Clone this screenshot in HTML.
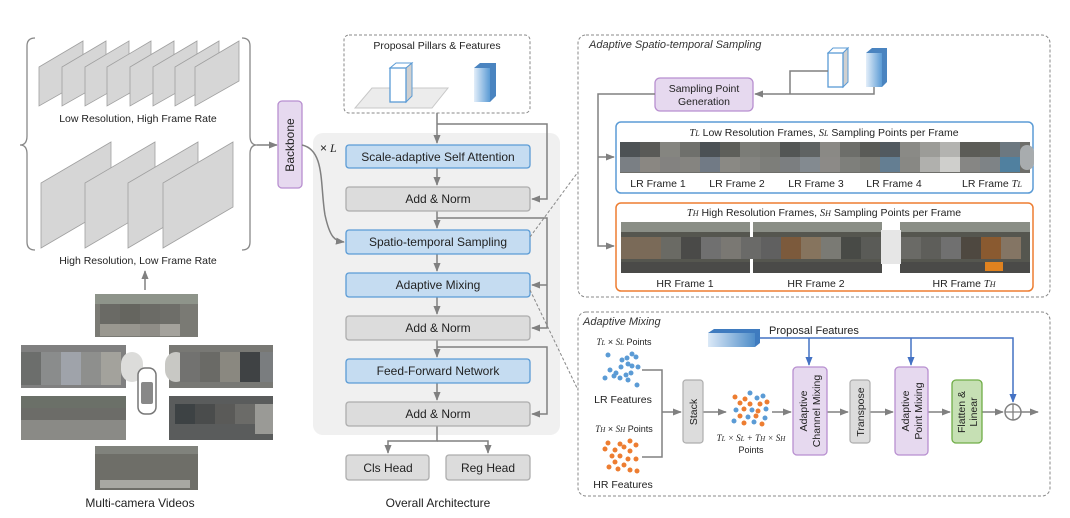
<!DOCTYPE html>
<html><head><meta charset="utf-8"><style>
html,body{margin:0;padding:0;background:#fff;}
svg{display:block;font-family:"Liberation Sans",sans-serif;}
.t{font-size:12px;fill:#222;text-anchor:middle;}
.s{font-size:10.5px;fill:#222;text-anchor:middle;}
.m{font-family:"Liberation Serif",serif;font-style:italic;}
</style></head><body>
<svg width="1070" height="518" viewBox="0 0 1070 518" xmlns="http://www.w3.org/2000/svg">
<defs>
<marker id="a" viewBox="0 0 10 10" refX="9" refY="5" markerWidth="6" markerHeight="6" orient="auto"><path d="M0,1 L10,5 L0,9 z" fill="#808080"/></marker>
<marker id="ab" viewBox="0 0 10 10" refX="9" refY="5" markerWidth="6" markerHeight="6" orient="auto"><path d="M0,1 L10,5 L0,9 z" fill="#4472c4"/></marker>
<linearGradient id="bg1" x1="0" x2="1"><stop offset="0" stop-color="#e3eef9"/><stop offset="1" stop-color="#5b9bd5"/></linearGradient>
<linearGradient id="bg2" x1="0" x2="1"><stop offset="0" stop-color="#dbe9f7"/><stop offset="1" stop-color="#4f8dc9"/></linearGradient>
</defs>

<path d="M35,38 Q27,38 27,46 L27,136 Q27,145 20,145 Q27,145 27,154 L27,242 Q27,250 35,250" fill="none" stroke="#888" stroke-width="1.3"/>
<path d="M242,38 Q250,38 250,46 L250,136 Q250,145 257,145 Q250,145 250,154 L250,242 Q250,250 242,250" fill="none" stroke="#888" stroke-width="1.3"/>
<line x1="257" y1="145" x2="277" y2="145" stroke="#808080" stroke-width="1.5" marker-end="url(#a)"/>
<g fill="#d6d6d6" stroke="#a0a0a0" stroke-width="0.8">
<polygon points="39,67 83,41 83,81 39,106"/>
<polygon points="62,67 106,41 106,81 62,106"/>
<polygon points="85,67 129,41 129,81 85,106"/>
<polygon points="107,67 151,41 151,81 107,106"/>
<polygon points="130,67 174,41 174,81 130,106"/>
<polygon points="153,67 197,41 197,81 153,106"/>
<polygon points="175,67 219,41 219,81 175,106"/>
<polygon points="195,67 239,41 239,81 195,106"/>
</g>
<text x="138" y="122" class="s" font-size="11">Low Resolution, High Frame Rate</text>
<g fill="#d6d6d6" stroke="#a0a0a0" stroke-width="0.8">
<polygon points="41,183 111,142 111,207 41,248"/>
<polygon points="85,183 155,142 155,207 85,248"/>
<polygon points="128,183 198,142 198,207 128,248"/>
<polygon points="163,183 233,142 233,207 163,248"/>
</g>
<text x="138" y="264" class="s" font-size="11">High Resolution, Low Frame Rate</text>
<line x1="145" y1="290" x2="145" y2="271" stroke="#808080" stroke-width="1.5" marker-end="url(#a)"/>

<g>
<rect x="95" y="294" width="103" height="43" fill="#7a7a74"/>
<rect x="95" y="294" width="103" height="10" fill="#8e948a"/>
<rect x="100" y="304" width="20" height="20" fill="#6a6a65"/><rect x="120" y="304" width="20" height="20" fill="#65655f"/><rect x="140" y="304" width="20" height="20" fill="#6b6b66"/><rect x="160" y="304" width="20" height="20" fill="#6e6e69"/>
<rect x="100" y="324" width="20" height="12" fill="#9a9890"/><rect x="120" y="324" width="20" height="12" fill="#97958e"/><rect x="140" y="324" width="20" height="12" fill="#8f8d87"/><rect x="160" y="324" width="20" height="12" fill="#a4a29c"/>
<rect x="21" y="345" width="105" height="43" fill="#808080"/>
<rect x="21" y="352" width="20" height="33" fill="#6c6e6c"/><rect x="41" y="352" width="20" height="33" fill="#8a8c8c"/><rect x="61" y="352" width="20" height="33" fill="#9fa3aa"/><rect x="81" y="352" width="20" height="33" fill="#8e8f8d"/><rect x="101" y="352" width="20" height="33" fill="#a3a29c"/><rect x="121" y="352" width="22" height="30" rx="12" fill="#dcdcda"/>
<rect x="169" y="345" width="104" height="43" fill="#787874"/>
<rect x="165" y="352" width="22" height="30" rx="12" fill="#c8c8c4"/><rect x="180" y="352" width="20" height="30" fill="#727270"/><rect x="200" y="352" width="20" height="30" fill="#6a6a66"/><rect x="220" y="352" width="20" height="30" fill="#8a8880"/><rect x="240" y="352" width="20" height="30" fill="#3f4244"/><rect x="260" y="352" width="13" height="30" fill="#7a7d7f"/>
<rect x="21" y="396" width="105" height="44" fill="#8a8a86"/>
<rect x="21" y="396" width="105" height="12" fill="#6b7068"/>
<rect x="21" y="408" width="105" height="12" fill="#6c6c68"/>
<rect x="169" y="396" width="104" height="44" fill="#5a5c5c"/>
<rect x="175" y="404" width="20" height="20" fill="#3d4244"/><rect x="195" y="404" width="20" height="20" fill="#4a4c4c"/><rect x="215" y="404" width="20" height="20" fill="#5a5a58"/><rect x="235" y="404" width="20" height="20" fill="#6b6b68"/><rect x="255" y="404" width="18" height="30" fill="#9a9a96"/>
<rect x="95" y="446" width="103" height="44" fill="#6e6e68"/>
<rect x="95" y="446" width="103" height="8" fill="#80827c"/>
<rect x="100" y="480" width="90" height="8" fill="#a8a8a2"/>
<rect x="138" y="368" width="18" height="46" rx="7" fill="#fff" stroke="#777" stroke-width="1.5"/>
<rect x="141" y="382" width="12" height="22" rx="2" fill="#888"/>
</g>
<text x="140" y="507" class="t">Multi-camera Videos</text>

<rect x="278" y="101" width="24" height="87" rx="4" fill="#e6d9ef" stroke="#b88fd0" stroke-width="1.3"/>
<text transform="translate(294,145) rotate(-90)" class="t">Backbone</text>

<rect x="313" y="133" width="247" height="302" rx="10" fill="#f0f0f0"/>
<rect x="344" y="35" width="186" height="78" rx="5" fill="none" stroke="#888" stroke-dasharray="3,2"/>
<text x="437" y="49" class="s" font-size="11">Proposal Pillars &amp; Features</text>
<polygon points="372,88 448,88 432,108 355,108" fill="#ececec" stroke="#c8c8c8"/>
<polygon points="390,68 396,63 412,63 406,68" fill="#fff" stroke="#5b9bd5"/>
<polygon points="406,68 412,63 412,96 406,102" fill="#d0d0d0" stroke="#5b9bd5"/>
<rect x="390" y="68" width="16" height="34" fill="#fff" stroke="#5b9bd5" stroke-width="1.3"/>
<polygon points="474,68 480,63 496,63 496,96 490,102 474,102" fill="#4a84c0"/>
<rect x="474" y="68" width="16" height="34" fill="url(#bg1)"/>
<text x="320" y="152" font-size="12" fill="#222"><tspan>×</tspan><tspan class="m" dx="3">L</tspan></text>

<g stroke="#808080" stroke-width="1.5" fill="none">
<path d="M437,113 L437,143" marker-end="url(#a)"/>
<path d="M437,124 L547,124 L547,199 L532,199" marker-end="url(#a)"/>
<path d="M437,168 L437,185" marker-end="url(#a)"/>
<path d="M437,211 L437,228" marker-end="url(#a)"/>
<path d="M437,218 L547,218 L547,328 L532,328" marker-end="url(#a)"/>
<path d="M547,285 L532,285" marker-end="url(#a)"/>
<path d="M437,254 L437,271" marker-end="url(#a)"/>
<path d="M437,297 L437,314" marker-end="url(#a)"/>
<path d="M437,340 L437,357" marker-end="url(#a)"/>
<path d="M437,347 L547,347 L547,414 L532,414" marker-end="url(#a)"/>
<path d="M437,383 L437,400" marker-end="url(#a)"/>
<path d="M437,426 L437,441 L388,441 L388,453" marker-end="url(#a)"/>
<path d="M437,441 L488,441 L488,453" marker-end="url(#a)"/>
<path d="M302,145 C325,150 320,185 325,215 C330,238 335,241 344,242" marker-end="url(#a)"/>
</g>
<g stroke-width="1.3">
<rect x="346" y="145" width="184" height="23" rx="3" fill="#c5dcf1" stroke="#5b9bd5"/>
<rect x="346" y="187" width="184" height="24" rx="3" fill="#dcdcdc" stroke="#adadad"/>
<rect x="346" y="230" width="184" height="24" rx="3" fill="#c5dcf1" stroke="#5b9bd5"/>
<rect x="346" y="273" width="184" height="24" rx="3" fill="#c5dcf1" stroke="#5b9bd5"/>
<rect x="346" y="316" width="184" height="24" rx="3" fill="#dcdcdc" stroke="#adadad"/>
<rect x="346" y="359" width="184" height="24" rx="3" fill="#c5dcf1" stroke="#5b9bd5"/>
<rect x="346" y="402" width="184" height="24" rx="3" fill="#dcdcdc" stroke="#adadad"/>
<rect x="346" y="455" width="83" height="25" rx="3" fill="#dcdcdc" stroke="#adadad"/>
<rect x="446" y="455" width="84" height="25" rx="3" fill="#dcdcdc" stroke="#adadad"/>
</g>
<text x="438" y="161" class="t">Scale-adaptive Self Attention</text>
<text x="438" y="203" class="t">Add &amp; Norm</text>
<text x="438" y="246" class="t">Spatio-temporal Sampling</text>
<text x="438" y="289" class="t">Adaptive Mixing</text>
<text x="438" y="332" class="t">Add &amp; Norm</text>
<text x="438" y="375" class="t">Feed-Forward Network</text>
<text x="438" y="418" class="t">Add &amp; Norm</text>
<text x="388" y="472" class="t">Cls Head</text>
<text x="488" y="472" class="t">Reg Head</text>
<text x="438" y="507" class="t">Overall Architecture</text>
<line x1="530" y1="237" x2="578" y2="172" stroke="#888" stroke-dasharray="3,2"/>
<line x1="530" y1="290" x2="578" y2="390" stroke="#888" stroke-dasharray="3,2"/>

<rect x="578" y="35" width="472" height="262" rx="8" fill="none" stroke="#888" stroke-dasharray="3,2"/>
<text x="589" y="48" font-size="11" font-style="italic" fill="#333">Adaptive Spatio-temporal Sampling</text>
<rect x="655" y="78" width="98" height="33" rx="5" fill="#e6d9ef" stroke="#b88fd0" stroke-width="1.3"/>
<text x="704" y="92" class="s" font-size="11">Sampling Point</text>
<text x="704" y="105" class="s" font-size="11">Generation</text>
<polygon points="828,53 833,48 848,48 843,53" fill="#fff" stroke="#5b9bd5"/>
<polygon points="843,53 848,48 848,82 843,87" fill="#d0d0d0" stroke="#5b9bd5"/>
<rect x="828" y="53" width="15" height="34" fill="#fff" stroke="#5b9bd5" stroke-width="1.3"/>
<polygon points="866,53 872,48 887,48 887,82 882,87 866,87" fill="#4a84c0"/>
<rect x="866" y="53" width="16" height="34" fill="url(#bg1)"/>
<g stroke="#808080" stroke-width="1.5" fill="none">
<path d="M790,94 L790,71 L828,71"/>
<path d="M874,87 L874,94 L755,94" marker-end="url(#a)"/>
<path d="M655,94 L598,94 L598,246 L614,246" marker-end="url(#a)"/>
<path d="M598,157 L614,157" marker-end="url(#a)"/>
</g>
<rect x="616" y="122" width="417" height="71" rx="5" fill="none" stroke="#5b9bd5" stroke-width="1.5"/>
<text x="824" y="136" class="s" font-size="11"><tspan class="m">T</tspan><tspan class="m" font-size="8">L</tspan> Low Resolution Frames,  <tspan class="m">S</tspan><tspan class="m" font-size="8">L</tspan> Sampling Points per Frame</text>
<g>
<rect x="620" y="142" width="410" height="31" fill="#6e6e6a"/>
<rect x="620" y="142" width="20" height="15" fill="#4d5255"/><rect x="640" y="142" width="20" height="15" fill="#5a5a57"/><rect x="660" y="142" width="20" height="15" fill="#858580"/><rect x="680" y="142" width="20" height="15" fill="#6f706c"/><rect x="700" y="142" width="20" height="15" fill="#4b5155"/><rect x="720" y="142" width="20" height="15" fill="#5e5f5a"/><rect x="740" y="142" width="20" height="15" fill="#7b7c77"/><rect x="760" y="142" width="20" height="15" fill="#777873"/><rect x="780" y="142" width="20" height="15" fill="#535655"/><rect x="800" y="142" width="20" height="15" fill="#5f6363"/><rect x="820" y="142" width="20" height="15" fill="#8a8985"/><rect x="840" y="142" width="20" height="15" fill="#6d6e6a"/><rect x="860" y="142" width="20" height="15" fill="#5a5b57"/><rect x="880" y="142" width="20" height="15" fill="#525a60"/><rect x="900" y="142" width="20" height="15" fill="#8a8a86"/><rect x="920" y="142" width="20" height="15" fill="#9c9c98"/><rect x="940" y="142" width="20" height="15" fill="#b3b3b0"/><rect x="960" y="142" width="20" height="15" fill="#5c5c57"/><rect x="980" y="142" width="20" height="15" fill="#5f605b"/><rect x="1000" y="142" width="20" height="15" fill="#6c7880"/><rect x="1020" y="145" width="14" height="25" rx="7" fill="#a8acae"/>
<rect x="620" y="157" width="20" height="15" fill="#7a7f84"/><rect x="640" y="157" width="20" height="15" fill="#8a8782"/><rect x="660" y="157" width="20" height="15" fill="#838280"/><rect x="680" y="157" width="20" height="15" fill="#858480"/><rect x="700" y="157" width="20" height="15" fill="#717a85"/><rect x="720" y="157" width="20" height="15" fill="#8a8984"/><rect x="740" y="157" width="20" height="15" fill="#848480"/><rect x="760" y="157" width="20" height="15" fill="#7d7e7a"/><rect x="780" y="157" width="20" height="15" fill="#7b7e80"/><rect x="800" y="157" width="20" height="15" fill="#838a90"/><rect x="820" y="157" width="20" height="15" fill="#8c8a87"/><rect x="840" y="157" width="20" height="15" fill="#7e7f7b"/><rect x="860" y="157" width="20" height="15" fill="#787974"/><rect x="880" y="157" width="20" height="15" fill="#647e92"/><rect x="900" y="157" width="20" height="15" fill="#888884"/><rect x="920" y="157" width="20" height="15" fill="#b0b0ad"/><rect x="940" y="157" width="20" height="15" fill="#cfcfcc"/><rect x="960" y="157" width="20" height="15" fill="#868684"/><rect x="980" y="157" width="20" height="15" fill="#7e8386"/><rect x="1000" y="157" width="20" height="15" fill="#50809f"/>
</g>
<g class="s" font-size="11">
<text x="658" y="187">LR Frame 1</text><text x="737" y="187">LR Frame 2</text><text x="816" y="187">LR Frame 3</text><text x="894" y="187">LR Frame 4</text><text x="992" y="187">LR Frame <tspan class="m">T</tspan><tspan class="m" font-size="8">L</tspan></text>
</g>
<rect x="616" y="203" width="417" height="88" rx="5" fill="none" stroke="#ed7d31" stroke-width="1.5"/>
<text x="824" y="216" class="s" font-size="11"><tspan class="m">T</tspan><tspan class="m" font-size="8">H</tspan> High Resolution Frames,  <tspan class="m">S</tspan><tspan class="m" font-size="8">H</tspan> Sampling Points per Frame</text>
<g>
<rect x="621" y="222" width="129" height="51" fill="#55564f"/><rect x="753" y="222" width="129" height="51" fill="#55564f"/><rect x="900" y="222" width="130" height="51" fill="#55564f"/>
<rect x="621" y="222" width="129" height="10" fill="#8a8e86"/><rect x="753" y="222" width="129" height="10" fill="#8a8e86"/><rect x="900" y="222" width="130" height="10" fill="#8a8e86"/>
<rect x="621" y="262" width="129" height="11" fill="#4a4a48"/><rect x="753" y="262" width="129" height="11" fill="#4a4a48"/><rect x="900" y="262" width="130" height="11" fill="#4a4a48"/>
<rect x="621" y="237" width="20" height="22" fill="#7a6a58"/><rect x="641" y="237" width="20" height="22" fill="#7a6a58"/><rect x="661" y="237" width="20" height="22" fill="#6a6a64"/><rect x="681" y="237" width="20" height="22" fill="#4a4a48"/><rect x="701" y="237" width="20" height="22" fill="#707070"/><rect x="721" y="237" width="20" height="22" fill="#7a7873"/><rect x="741" y="237" width="20" height="22" fill="#6a6a68"/><rect x="761" y="237" width="20" height="22" fill="#606060"/><rect x="781" y="237" width="20" height="22" fill="#7c5a3c"/><rect x="801" y="237" width="20" height="22" fill="#86745e"/><rect x="821" y="237" width="20" height="22" fill="#7a7a74"/><rect x="841" y="237" width="20" height="22" fill="#484a46"/><rect x="861" y="237" width="20" height="22" fill="#5a5b57"/><rect x="881" y="230" width="20" height="34" fill="#e6e6e6"/><rect x="901" y="237" width="20" height="22" fill="#6a6a66"/><rect x="921" y="237" width="20" height="22" fill="#5e5e5a"/><rect x="941" y="237" width="20" height="22" fill="#707070"/><rect x="961" y="237" width="20" height="22" fill="#4e4840"/><rect x="981" y="237" width="20" height="22" fill="#8a5a30"/><rect x="1001" y="237" width="20" height="22" fill="#847564"/>
<rect x="985" y="262" width="18" height="9" fill="#e0821f"/>
</g>
<g class="s" font-size="11">
<text x="685" y="287">HR Frame 1</text><text x="816" y="287">HR Frame 2</text><text x="964" y="287">HR Frame <tspan class="m">T</tspan><tspan class="m" font-size="8">H</tspan></text>
</g>

<rect x="578" y="312" width="472" height="184" rx="8" fill="none" stroke="#888" stroke-dasharray="3,2"/>
<text x="583" y="325" font-size="11" font-style="italic" fill="#333">Adaptive Mixing</text>
<polygon points="708,333 714,329 760,329 760,343 755,347" fill="#3f7bbf"/>
<rect x="708" y="333" width="47" height="14" fill="url(#bg2)"/>
<text x="769" y="334" font-size="11" fill="#222">Proposal Features</text>
<g stroke="#4472c4" stroke-width="1.5" fill="none">
<path d="M760,338 L1013,338 L1013,402" marker-end="url(#ab)"/>
<path d="M809,338 L809,365" marker-end="url(#ab)"/>
<path d="M911,338 L911,365" marker-end="url(#ab)"/>
</g>
<text x="624" y="345" font-size="9" fill="#222" text-anchor="middle"><tspan class="m">T</tspan><tspan class="m" font-size="7">L</tspan> × <tspan class="m">S</tspan><tspan class="m" font-size="7">L</tspan> Points</text>
<g fill="#5b9bd5">
<circle cx="608" cy="355" r="2.5"/><circle cx="622" cy="360" r="2.5"/><circle cx="627" cy="358" r="2.5"/><circle cx="632" cy="354" r="2.5"/><circle cx="636" cy="357" r="2.5"/><circle cx="628" cy="364" r="2.5"/><circle cx="610" cy="370" r="2.5"/><circle cx="616" cy="373" r="2.5"/><circle cx="621" cy="367" r="2.5"/><circle cx="632" cy="366" r="2.5"/><circle cx="638" cy="367" r="2.5"/><circle cx="614" cy="376" r="2.5"/><circle cx="620" cy="378" r="2.5"/><circle cx="626" cy="375" r="2.5"/><circle cx="631" cy="373" r="2.5"/><circle cx="628" cy="380" r="2.5"/><circle cx="605" cy="378" r="2.5"/><circle cx="637" cy="385" r="2.5"/>
</g>
<text x="623" y="403" class="s" font-size="11">LR Features</text>
<text x="624" y="432" font-size="9" fill="#222" text-anchor="middle"><tspan class="m">T</tspan><tspan class="m" font-size="7">H</tspan> × <tspan class="m">S</tspan><tspan class="m" font-size="7">H</tspan> Points</text>
<g fill="#ed7d31">
<circle cx="608" cy="443" r="2.5"/><circle cx="620" cy="444" r="2.5"/><circle cx="630" cy="441" r="2.5"/><circle cx="636" cy="445" r="2.5"/><circle cx="605" cy="449" r="2.5"/><circle cx="615" cy="450" r="2.5"/><circle cx="624" cy="447" r="2.5"/><circle cx="630" cy="451" r="2.5"/><circle cx="612" cy="456" r="2.5"/><circle cx="620" cy="456" r="2.5"/><circle cx="628" cy="459" r="2.5"/><circle cx="636" cy="459" r="2.5"/><circle cx="615" cy="462" r="2.5"/><circle cx="624" cy="465" r="2.5"/><circle cx="609" cy="467" r="2.5"/><circle cx="630" cy="470" r="2.5"/><circle cx="637" cy="471" r="2.5"/><circle cx="618" cy="469" r="2.5"/>
</g>
<text x="623" y="488" class="s" font-size="11">HR Features</text>
<g stroke="#808080" stroke-width="1.5" fill="none">
<path d="M642,370 L662,370 L662,457 L642,457"/>
<path d="M662,412 L681,412" marker-end="url(#a)"/>
<path d="M703,412 L726,412" marker-end="url(#a)"/>
<path d="M772,412 L791,412" marker-end="url(#a)"/>
<path d="M827,412 L848,412" marker-end="url(#a)"/>
<path d="M870,412 L893,412" marker-end="url(#a)"/>
<path d="M928,412 L950,412" marker-end="url(#a)"/>
<path d="M982,412 L1003,412" marker-end="url(#a)"/>
<path d="M1021,412 L1038,412" marker-end="url(#a)"/>
</g>
<circle cx="1013" cy="412" r="8" fill="#fff" stroke="#808080" stroke-width="1.5"/>
<path d="M1005,412 L1021,412 M1013,404 L1013,420" stroke="#808080" stroke-width="1.3"/>
<rect x="683" y="380" width="20" height="63" rx="3" fill="#dcdcdc" stroke="#adadad" stroke-width="1.2"/>
<text transform="translate(697,412) rotate(-90)" class="s" font-size="11">Stack</text>
<g>
<circle cx="735" cy="397" r="2.5" fill="#ed7d31"/><circle cx="745" cy="399" r="2.5" fill="#ed7d31"/><circle cx="757" cy="398" r="2.5" fill="#5b9bd5"/><circle cx="763" cy="396" r="2.5" fill="#5b9bd5"/><circle cx="740" cy="403" r="2.5" fill="#ed7d31"/><circle cx="750" cy="404" r="2.5" fill="#ed7d31"/><circle cx="760" cy="404" r="2.5" fill="#ed7d31"/><circle cx="767" cy="402" r="2.5" fill="#ed7d31"/><circle cx="736" cy="410" r="2.5" fill="#5b9bd5"/><circle cx="744" cy="409" r="2.5" fill="#ed7d31"/><circle cx="752" cy="410" r="2.5" fill="#5b9bd5"/><circle cx="758" cy="411" r="2.5" fill="#ed7d31"/><circle cx="766" cy="409" r="2.5" fill="#5b9bd5"/><circle cx="740" cy="416" r="2.5" fill="#ed7d31"/><circle cx="748" cy="417" r="2.5" fill="#5b9bd5"/><circle cx="756" cy="416" r="2.5" fill="#ed7d31"/><circle cx="765" cy="418" r="2.5" fill="#5b9bd5"/><circle cx="734" cy="421" r="2.5" fill="#5b9bd5"/><circle cx="744" cy="423" r="2.5" fill="#ed7d31"/><circle cx="754" cy="422" r="2.5" fill="#5b9bd5"/><circle cx="762" cy="424" r="2.5" fill="#ed7d31"/><circle cx="750" cy="393" r="2.5" fill="#5b9bd5"/>
</g>
<text x="751" y="441" font-size="9" fill="#222" text-anchor="middle" class="m">T<tspan font-size="7">L</tspan> × S<tspan font-size="7">L</tspan> + T<tspan font-size="7">H</tspan> × S<tspan font-size="7">H</tspan></text>
<text x="751" y="453" font-size="9" fill="#222" text-anchor="middle">Points</text>
<rect x="793" y="367" width="34" height="88" rx="4" fill="#e6d9ef" stroke="#b88fd0" stroke-width="1.3"/>
<text transform="translate(807,411) rotate(-90)" class="s" font-size="11">Adaptive</text>
<text transform="translate(820,411) rotate(-90)" class="s" font-size="11">Channel Mixing</text>
<rect x="850" y="380" width="20" height="63" rx="3" fill="#dcdcdc" stroke="#adadad" stroke-width="1.2"/>
<text transform="translate(864,412) rotate(-90)" class="s" font-size="11">Transpose</text>
<rect x="895" y="367" width="33" height="88" rx="4" fill="#e6d9ef" stroke="#b88fd0" stroke-width="1.3"/>
<text transform="translate(909,411) rotate(-90)" class="s" font-size="11">Adaptive</text>
<text transform="translate(922,411) rotate(-90)" class="s" font-size="11">Point Mixing</text>
<rect x="952" y="380" width="30" height="63" rx="4" fill="#c6e0b4" stroke="#70ad47" stroke-width="1.3"/>
<text transform="translate(965,412) rotate(-90)" class="s" font-size="11">Flatten &amp;</text>
<text transform="translate(977,412) rotate(-90)" class="s" font-size="11">Linear</text>
</svg>
</body></html>
